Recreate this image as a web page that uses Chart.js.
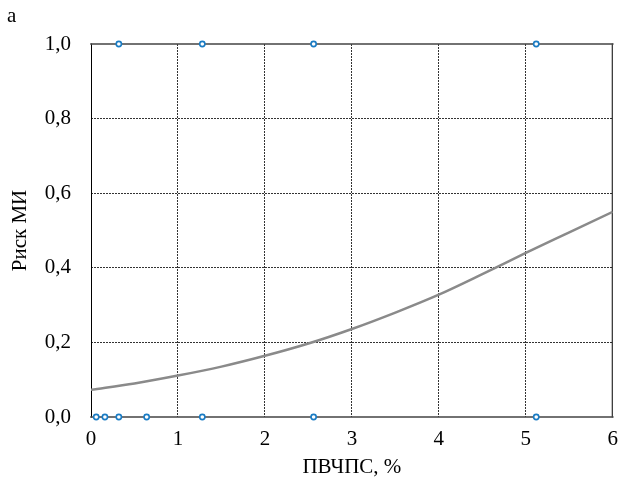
<!DOCTYPE html>
<html>
<head>
<meta charset="utf-8">
<script src="https://cdn.jsdelivr.net/npm/chart.js@4/dist/chart.umd.min.js"></script>
<style>
  html, body { margin: 0; padding: 0; background: #ffffff; }
  #wrap { width: 628px; height: 485px; }
</style>
</head>
<body>
<div id="wrap"><canvas id="c" width="628" height="485"></canvas></div>
<script>
// Observed cases (x = ПВЧПС, %, y = outcome 0/1)
const caseX = [0.32, 1.28, 2.56, 5.12, 0.06, 0.16, 0.32, 0.64, 1.28, 2.56, 5.12];
const caseY = [1, 1, 1, 1, 0, 0, 0, 0, 0, 0, 0];
// Fitted risk curve
const curveX = [0, 0.5, 1, 1.5, 2, 2.5, 3, 3.5, 4, 4.5, 5, 5.5, 6];
const curveY = [0.073, 0.090, 0.111, 0.135, 0.164, 0.197, 0.236, 0.280, 0.328, 0.383, 0.440, 0.495, 0.550];
// Axis ticks
const xTicks = [0, 1, 2, 3, 4, 5, 6];
const yTicks = [0, 0.2, 0.4, 0.6, 0.8, 1.0];
const panelLabel = 'a';
const xTitle = 'ПВЧПС, %';
const yTitle = 'Риск МИ';

const SERIF = '"Liberation Serif", "Times New Roman", serif';

const casePoints = caseX.map((x, i) => ({ x: x, y: caseY[i] }));
const curvePoints = curveX.map((x, i) => ({ x: x, y: curveY[i] }));

const framePlugin = {
  id: 'frame',
  beforeDatasetsDraw(chart) {
    const { ctx, chartArea: a } = chart;
    ctx.save();
    ctx.lineCap = 'square';
    ctx.strokeStyle = '#000';
    ctx.lineWidth = 1;
    ctx.beginPath();
    ctx.moveTo(a.left + 0.5, a.top);
    ctx.lineTo(a.left + 0.5, a.bottom);
    ctx.moveTo(a.right - 0.5, a.top);
    ctx.lineTo(a.right - 0.5, a.bottom);
    ctx.stroke();
    ctx.strokeStyle = '#444';
    ctx.lineWidth = 1.6;
    ctx.beginPath();
    ctx.moveTo(a.left, a.top);
    ctx.lineTo(a.right, a.top);
    ctx.moveTo(a.left, a.bottom);
    ctx.lineTo(a.right, a.bottom);
    ctx.stroke();
    ctx.restore();
  },
  afterDraw(chart) {
    const ctx = chart.ctx;
    ctx.save();
    ctx.fillStyle = '#000';
    ctx.font = '21px ' + SERIF;
    ctx.textBaseline = 'alphabetic';
    ctx.textAlign = 'left';
    ctx.fillText(panelLabel, 7, 22);
    ctx.restore();
  }
};

new Chart(document.getElementById('c'), {
  type: 'scatter',
  data: {
    datasets: [
      {
        type: 'line',
        data: curvePoints,
        borderColor: '#8a8a8a',
        borderWidth: 2.5,
        pointRadius: 0,
        fill: false,
        cubicInterpolationMode: 'monotone',
        order: 2
      },
      {
        data: casePoints,
        borderColor: '#1a7cc4',
        backgroundColor: '#ffffff',
        borderWidth: 1.6,
        pointRadius: 2.6,
        clip: false,
        order: 1
      }
    ]
  },
  options: {
    responsive: false,
    animation: false,
    devicePixelRatio: 1,
    layout: { padding: { top: 44, right: 6, left: 0, bottom: 0 } },
    plugins: { legend: { display: false }, tooltip: { enabled: false } },
    scales: {
      x: {
        type: 'linear',
        min: 0, max: 6,
        afterBuildTicks(scale) { scale.ticks = xTicks.map(v => ({ value: v })); },
        afterFit(scale) { scale.height = 68; },
        border: { display: false, dash: [2, 1] },
        grid: {
          drawTicks: false,
          lineWidth: 1,
          color: ctx => (ctx.tick && (ctx.tick.value === 0 || ctx.tick.value === 6)) ? 'rgba(0,0,0,0)' : '#333'
        },
        ticks: {
          padding: 10,
          color: '#000',
          font: { family: SERIF, size: 21 },
          callback: v => String(v)
        },
        title: {
          display: true,
          text: xTitle,
          color: '#000',
          font: { family: SERIF, size: 21, lineHeight: 1 },
          padding: { top: 0, bottom: 7 }
        }
      },
      y: {
        type: 'linear',
        min: 0, max: 1,
        afterBuildTicks(scale) { scale.ticks = yTicks.map(v => ({ value: v })); },
        afterFit(scale) { scale.width = 91; },
        border: { display: false, dash: [2, 1] },
        grid: {
          drawTicks: false,
          lineWidth: 1,
          color: ctx => (ctx.tick && (ctx.tick.value === 0 || ctx.tick.value === 1)) ? 'rgba(0,0,0,0)' : '#333'
        },
        ticks: {
          padding: 20,
          color: '#000',
          font: { family: SERIF, size: 21 },
          callback: v => v.toFixed(1).replace('.', ',')
        },
        title: {
          display: true,
          text: yTitle,
          color: '#000',
          font: { family: SERIF, size: 21, lineHeight: 1 },
          padding: { top: 10, bottom: 0 }
        }
      }
    }
  },
  plugins: [framePlugin]
});
</script>
</body>
</html>
